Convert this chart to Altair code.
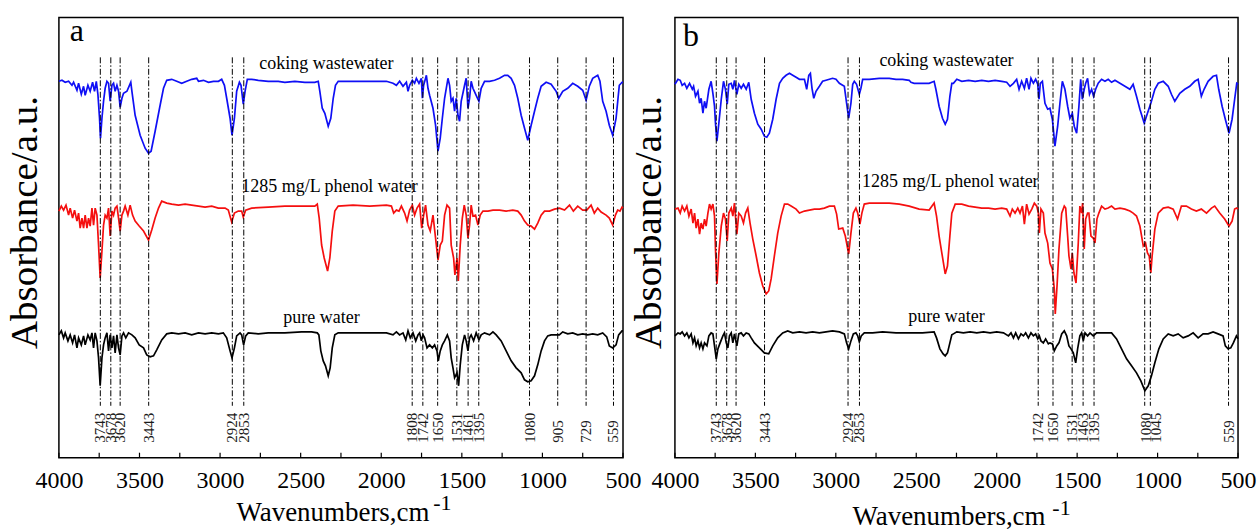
import altair as alt
import pandas as pd

FONT = "Liberation Serif"
SERIES = ["coking wastewater", "1285 mg/L phenol water", "pure water"]
COLORS = ["#0f0ff5", "#f50f0f", "#000000"]

X_LABELS = [4000, 3500, 3000, 2500, 2000, 1500, 1000, 500]
X_MINOR = [4000, 3750, 3500, 3250, 3000, 2750, 2500, 2250, 2000, 1750, 1500, 1250, 1000, 750, 500]

A_PEAKS = [3743, 3678, 3620, 3443, 2924, 2853, 1808, 1742, 1650, 1531, 1461, 1395, 1080, 905, 729, 559]
B_PEAKS = [3743, 3678, 3620, 3443, 2924, 2853, 1742, 1650, 1531, 1463, 1395, 1080, 1045, 559]

# panel a (wavenumber, absorbance a.u.)
A_COKING = [(4000,377),(3981,378),(3961,376),(3940,377),(3919,373),(3909,376),(3888,368),(3878,375),(3861,364),(3847,372),(3837,363),(3820,373),(3806,367),(3791,376),(3779,367),(3768,377),(3758,364),(3748,340),(3742,320),(3733,340),(3723,357),(3713,370),(3702,377),(3692,375),(3682,357),(3671,373),(3661,375),(3651,367),(3640,373),(3630,367),(3620,351),(3609,360),(3599,365),(3578,367),(3554,376),(3547,367),(3527,343),(3496,323),(3465,310),(3444,305),(3428,307),(3403,327),(3372,353),(3351,370),(3331,378),(3300,379),(3269,377),(3238,375),(3207,377),(3176,379),(3145,380),(3134,377),(3103,378),(3072,376),(3041,377),(3010,377),(2990,379),(2973,373),(2959,360),(2938,340),(2926,323),(2911,340),(2897,367),(2880,376),(2870,373),(2856,354),(2845,367),(2831,379),(2804,379),(2763,378),(2701,377),(2639,377),(2598,376),(2536,377),(2474,376),(2412,376),(2391,377),(2381,367),(2366,350),(2350,345),(2329,332),(2313,340),(2298,360),(2284,373),(2267,377),
(2175,377),(2071,377),(1968,377),(1927,375),(1906,373),(1886,377),(1865,372),(1844,376),(1834,367),(1824,373),(1807,378),(1793,375),(1782,380),(1766,375),(1751,380),(1745,360),(1737,373),(1720,383),(1710,370),(1700,363),(1679,350),(1663,333),(1648,307),(1634,320),(1621,340),(1607,360),(1586,380),(1576,373),(1566,357),(1555,360),(1545,347),(1535,360),(1524,343),(1514,337),(1504,357),(1483,373),(1473,380),(1462,350),(1452,360),(1442,377),(1431,370),(1411,363),(1394,357),(1380,370),(1359,377),(1328,377),(1297,378),(1266,380),(1235,383),(1215,383),(1194,380),(1173,373),(1153,360),(1132,343),(1111,330),(1091,318),(1070,333),(1049,347),(1029,360),(1008,372),(977,376),(946,374),(915,367),(899,360),(874,367),(843,370),(812,375),(781,372),(750,368),(729,358),(709,372),(688,380),(657,383),(643,377),(626,357),(605,347),(585,333),(564,323),(543,340),(523,373),(506,376),(500,376)]

A_PHENOL = [(4000,247),(3985,252),(3971,248),(3956,253),(3940,243),(3930,250),(3915,240),(3903,248),(3888,237),(3878,245),(3868,230),(3857,240),(3847,230),(3837,243),(3826,230),(3816,240),(3806,232),(3795,250),(3785,233),(3775,250),(3764,243),(3754,213),(3744,180),(3733,207),(3723,233),(3713,243),(3702,240),(3692,250),(3682,222),(3671,247),(3661,243),(3651,250),(3640,252),(3630,240),(3620,227),(3609,243),(3599,247),(3589,252),(3572,243),(3558,253),(3543,243),(3527,237),(3502,232),(3475,227),(3444,218),(3424,228),(3403,240),(3382,250),(3362,257),(3331,255),(3300,254),(3258,253),(3217,254),(3176,253),(3134,252),(3093,251),(3052,252),(3011,250),(2969,250),(2949,248),(2928,236),(2911,245),(2887,247),(2866,247),(2856,241),(2841,248),(2804,250),(2701,251),(2598,252),(2494,252),(2412,252),(2397,254),(2385,240),(2370,213),(2354,200),(2333,187),(2319,200),(2304,227),(2288,247),(2267,252),
(2175,253),(2071,252),(1968,253),(1937,252),(1923,245),(1906,248),(1890,247),(1875,252),(1855,245),(1840,237),(1824,248),(1807,253),(1793,243),(1778,250),(1762,254),(1749,230),(1737,243),(1725,253),(1710,233),(1696,227),(1679,243),(1663,220),(1648,198),(1634,213),(1621,217),(1607,243),(1592,253),(1576,250),(1566,213),(1551,200),(1543,183),(1530,200),(1522,177),(1510,213),(1497,240),(1485,253),(1473,243),(1462,220),(1452,233),(1442,253),(1431,242),(1415,243),(1400,233),(1386,243),(1369,247),(1338,247),(1307,248),(1266,248),(1225,247),(1184,248),(1153,247),(1132,243),(1111,237),(1091,233),(1070,232),(1049,229),(1029,235),(1008,243),(987,247),(956,247),(925,249),(894,250),(863,248),(832,253),(808,247),(781,252),(750,248),(725,248),(698,253),(678,245),(657,250),(636,246),(605,243),(585,240),(564,233),(547,243),(533,248),(519,247),(506,251),(500,250)]

A_PURE = [(4000,123),(3985,127),(3971,120),(3961,125),(3944,117),(3930,123),(3915,115),(3903,123),(3888,110),(3878,120),(3861,113),(3847,122),(3837,113),(3820,123),(3806,118),(3795,125),(3785,110),(3775,125),(3764,117),(3754,100),(3744,72),(3733,100),(3723,113),(3713,120),(3702,125),(3692,107),(3682,123),(3671,110),(3661,122),(3651,105),(3640,123),(3630,110),(3620,103),(3609,122),(3599,125),(3585,120),(3568,125),(3547,123),(3527,120),(3502,113),(3475,110),(3455,103),(3434,101),(3413,102),(3393,108),(3362,118),(3331,124),(3300,125),(3258,124),(3217,125),(3176,123),(3134,125),(3093,124),(3052,125),(3010,124),(2980,125),(2959,120),(2938,107),(2926,100),(2911,110),(2897,122),(2876,125),(2866,123),(2854,113),(2841,122),(2825,125),(2763,124),(2701,125),(2598,125),(2494,126),(2432,126),(2397,125),(2387,123),(2375,107),(2360,97),(2346,92),(2329,82),(2317,90),(2304,110),(2288,123),(2267,125),
(2175,125),(2071,125),(1968,125),(1927,123),(1906,126),(1886,123),(1865,125),(1848,118),(1834,127),(1820,120),(1803,125),(1786,117),(1772,123),(1762,125),(1751,117),(1741,123),(1731,120),(1716,110),(1700,113),(1683,110),(1669,113),(1654,107),(1646,97),(1634,107),(1621,113),(1607,117),(1590,123),(1576,117),(1566,100),(1555,90),(1545,80),(1530,85),(1520,72),(1510,93),(1497,113),(1483,123),(1473,117),(1462,107),(1452,120),(1442,123),(1427,117),(1411,125),(1394,118),(1380,123),(1359,125),(1328,123),(1307,126),(1287,123),(1256,117),(1225,107),(1194,97),(1163,90),(1132,85),(1111,78),(1091,76),(1070,77),(1049,82),(1029,93),(1008,107),(987,117),(967,122),(946,123),(915,123),(895,123),(874,126),(843,124),(812,125),(781,123),(750,124),(719,123),(688,124),(657,123),(626,125),(601,121),(585,112),(564,110),(543,113),(527,123),(506,127),(500,127)]

# panel b
B_COKING = [(4000,374),(3981,379),(3967,378),(3955,373),(3940,375),(3926,370),(3909,375),(3892,369),(3884,372),(3872,362),(3857,367),(3847,355),(3837,360),(3826,345),(3816,357),(3806,350),(3789,369),(3775,377),(3764,365),(3754,352),(3748,335),(3739,317),(3727,335),(3712,359),(3698,377),(3686,369),(3675,354),(3665,374),(3650,375),(3640,369),(3630,378),(3615,364),(3603,374),(3588,370),(3574,374),(3557,369),(3541,376),(3526,359),(3506,345),(3485,334),(3464,329),(3444,322),(3429,321),(3413,325),(3392,339),(3371,359),(3350,375),(3330,380),(3309,383),(3288,385),(3268,383),(3247,381),(3226,379),(3195,379),(3181,369),(3168,383),(3158,385),(3148,370),(3137,360),(3123,367),(3102,372),(3082,377),(3061,378),(3040,379),(3020,380),(2999,379),(2978,375),(2947,372),(2933,355),(2920,340),(2906,355),(2895,374),(2885,377),(2871,374),(2854,364),(2844,370),(2833,379),(2792,379),(2730,380),(2668,380),(2626,379),(2585,379),(2544,378),(2533,376),(2513,375),(2471,375),(2420,375),(2389,377),(2378,369),(2358,352),(2337,340),(2320,334),(2306,339),(2291,362),(2279,375),
(2269,375),(2248,379),(2217,377),(2175,378),(2134,377),(2093,378),(2051,377),(2010,378),(1969,377),(1938,376),(1917,372),(1896,375),(1876,379),(1861,369),(1845,377),(1828,370),(1814,380),(1799,369),(1787,380),(1772,375),(1758,379),(1745,374),(1737,359),(1729,375),(1716,377),(1700,355),(1683,349),(1669,350),(1654,339),(1638,312),(1621,332),(1607,355),(1592,377),(1576,369),(1559,352),(1545,340),(1530,345),(1518,332),(1503,325),(1489,352),(1478,379),(1468,359),(1456,369),(1447,375),(1435,380),(1423,364),(1410,369),(1398,362),(1385,369),(1369,375),(1348,379),(1327,377),(1307,379),(1286,376),(1265,378),(1234,375),(1203,372),(1172,369),(1152,374),(1131,362),(1110,349),(1083,335),(1063,345),(1042,355),(1017,369),(996,375),(965,377),(934,372),(914,364),(893,357),(862,365),(831,369),(800,372),(769,377),(748,379),(728,362),(711,369),(686,377),(655,382),(634,383),(620,369),(599,352),(579,339),(556,325),(537,339),(521,359),(508,375),(500,374)]

B_PHENOL = [(4000,249),(3981,250),(3967,245),(3955,252),(3940,247),(3926,252),(3913,242),(3899,249),(3888,235),(3878,245),(3868,230),(3857,239),(3847,224),(3837,235),(3826,229),(3816,239),(3806,232),(3795,245),(3785,254),(3775,249),(3764,254),(3754,242),(3748,209),(3739,174),(3727,205),(3712,232),(3698,245),(3686,239),(3675,217),(3665,245),(3650,250),(3640,242),(3630,255),(3615,224),(3603,245),(3588,242),(3574,235),(3561,245),(3547,250),(3533,235),(3516,219),(3495,202),(3475,185),(3454,172),(3433,164),(3417,167),(3402,179),(3382,202),(3361,225),(3340,242),(3319,254),(3299,254),(3278,252),(3247,249),(3226,245),(3195,247),(3164,248),(3133,249),(3102,249),(3071,250),(3040,252),(3009,252),(2995,244),(2982,229),(2957,230),(2941,222),(2920,204),(2906,225),(2891,245),(2875,250),(2864,245),(2850,234),(2838,245),(2823,254),(2792,255),(2730,255),(2668,255),(2606,254),(2544,252),(2482,249),(2420,248),(2389,255),(2374,242),(2358,222),(2341,205),(2320,184),(2306,192),(2291,222),(2279,245),
(2258,254),(2217,254),(2175,252),(2134,251),(2093,250),(2051,250),(2010,249),(1969,250),(1938,249),(1917,242),(1903,249),(1886,245),(1869,250),(1855,245),(1840,252),(1828,234),(1814,254),(1799,244),(1782,249),(1766,255),(1751,252),(1741,245),(1735,225),(1725,249),(1710,245),(1700,225),(1683,215),(1669,195),(1654,189),(1642,169),(1636,144),(1625,172),(1613,209),(1596,245),(1580,252),(1571,250),(1559,222),(1551,202),(1538,189),(1530,205),(1520,185),(1507,175),(1493,215),(1483,252),(1472,245),(1466,255),(1456,209),(1447,239),(1435,245),(1427,245),(1414,222),(1400,220),(1389,215),(1377,239),(1365,245),(1348,252),(1327,249),(1307,250),(1286,252),(1265,249),(1234,250),(1203,249),(1172,247),(1152,245),(1131,242),(1110,232),(1089,212),(1075,215),(1063,205),(1052,202),(1042,185),(1034,202),(1017,229),(996,245),(965,250),(934,251),(903,249),(876,239),(852,252),(821,252),(790,249),(759,247),(728,249),(696,245),(665,250),(645,252),(614,245),(583,239),(556,232),(537,237),(521,249),(508,250),(500,249)]

B_PURE = [(4000,122),(3981,125),(3967,124),(3955,126),(3940,122),(3926,125),(3913,120),(3899,124),(3888,115),(3878,120),(3868,112),(3857,117),(3847,110),(3837,115),(3826,109),(3816,115),(3801,112),(3789,122),(3775,125),(3764,124),(3754,112),(3743,99),(3733,109),(3719,115),(3702,122),(3692,125),(3681,115),(3671,110),(3661,122),(3650,125),(3640,115),(3630,124),(3615,112),(3603,124),(3588,125),(3574,122),(3557,125),(3541,124),(3526,120),(3506,115),(3475,110),(3444,105),(3417,104),(3392,112),(3361,120),(3330,125),(3299,127),(3268,125),(3226,126),(3185,125),(3144,126),(3102,125),(3061,126),(3020,127),(2978,126),(2947,124),(2933,115),(2920,109),(2906,117),(2891,124),(2875,125),(2864,122),(2854,116),(2842,122),(2823,125),(2771,125),(2709,126),(2626,125),(2544,125),(2461,125),(2389,126),(2374,120),(2353,109),(2333,104),(2320,102),(2306,105),(2291,115),(2279,123),
(2269,124),(2248,126),(2207,125),(2165,126),(2124,125),(2082,126),(2041,125),(2000,126),(1958,125),(1927,122),(1911,125),(1896,120),(1882,125),(1865,119),(1849,124),(1834,122),(1820,125),(1803,120),(1787,125),(1772,122),(1758,124),(1745,119),(1735,122),(1725,117),(1710,115),(1696,119),(1679,114),(1669,115),(1654,114),(1642,107),(1627,112),(1613,115),(1596,124),(1580,127),(1565,122),(1551,112),(1538,109),(1524,105),(1509,95),(1497,109),(1483,122),(1472,125),(1462,117),(1451,125),(1435,122),(1420,125),(1400,122),(1379,125),(1348,125),(1317,125),(1286,125),(1255,119),(1224,109),(1193,99),(1162,92),(1131,85),(1104,77),(1079,67),(1058,72),(1038,82),(1017,95),(992,109),(965,119),(934,124),(903,122),(872,124),(841,120),(810,122),(779,125),(748,120),(717,124),(686,124),(655,126),(624,124),(593,122),(579,112),(562,109),(545,110),(529,115),(510,122),(500,119)]

# annotation placement (not data)
A_NAME_POS = {"coking wastewater": (2340, 389), "1285 mg/L phenol water": (2321, 266), "pure water": (2371, 135)}
B_NAME_POS = {"coking wastewater": (2312, 392), "1285 mg/L phenol water": (2288, 271), "pure water": (2312, 136)}
B_LABEL_SHIFT = {1045: -35, 1080: -8}

HEIGHT = 441


def make_panel(spectra, peaks, label_shift, letter, letter_pos, name_pos,
               ytitle_x, xtitle_y, sup_x, sup_y, width):
    rows = []
    for name, pts in zip(SERIES, spectra):
        for wn, a in pts:
            rows.append({"series": name, "wn": wn, "a": a})
    spec_df = pd.DataFrame(rows)

    xs = alt.Scale(domain=[500, 4000], reverse=True, nice=False, zero=False)
    ys = alt.Scale(domain=[0, HEIGHT], nice=False, zero=False)
    xaxis = alt.Axis(values=X_LABELS, format="d", title="Wavenumbers,cm",
                     labelFont=FONT, labelFontSize=24, labelColor="black",
                     labelPadding=11, labelFlush=False, labelOverlap=False,
                     ticks=False, domain=False, grid=False,
                     titleFont=FONT, titleFontSize=27, titleFontWeight="normal",
                     titleColor="black", titleX=274, titleY=xtitle_y,
                     titleBaseline="alphabetic", titleAlign="center")
    yaxis = alt.Axis(labels=False, ticks=False, domain=False, grid=False,
                     title="Absorbance/a.u.", titleFont=FONT, titleFontSize=39,
                     titleFontWeight="normal", titleColor="black", titleAngle=270,
                     titleX=ytitle_x, titleY=205, titleBaseline="alphabetic",
                     titleAlign="center")
    X = alt.X("wn:Q", scale=xs, axis=xaxis)
    Y = alt.Y("a:Q", scale=ys, axis=yaxis)

    lines = alt.Chart(spec_df).mark_line(strokeWidth=1.7).encode(
        x=X, y=Y,
        color=alt.Color("series:N", scale=alt.Scale(domain=SERIES, range=COLORS), legend=None),
    )

    peak_df = pd.DataFrame({"wn": peaks, "a": [401] * len(peaks), "a2": [52] * len(peaks)})
    rules = alt.Chart(peak_df).mark_rule(color="black", strokeWidth=1, strokeDash=[6, 2, 1.5, 2]).encode(
        x=X, y=Y, y2=alt.Y2("a2:Q"))

    lab_df = pd.DataFrame({"wn": [p + label_shift.get(p, 0) for p in peaks],
                           "a": [15] * len(peaks), "t": [str(p) for p in peaks]})
    labels = alt.Chart(lab_df).mark_text(angle=270, align="left", baseline="middle",
                                         font=FONT, fontSize=15, color="#1a1a1a").encode(
        x=X, y=Y, text="t:N")

    tick_df = pd.DataFrame({"wn": X_MINOR})
    ticks = alt.Chart(tick_df).mark_rule(color="black", strokeWidth=1.2).encode(
        x=X, y=alt.value(HEIGHT), y2=alt.value(HEIGHT - 5))

    nm_df = pd.DataFrame({"t": list(name_pos.keys()),
                          "wn": [v[0] for v in name_pos.values()],
                          "a": [v[1] for v in name_pos.values()]})
    names = alt.Chart(nm_df).mark_text(align="center", baseline="alphabetic",
                                       font=FONT, fontSize=18, color="black").encode(
        x=X, y=Y, text="t:N")

    let_df = pd.DataFrame({"t": [letter], "wn": [letter_pos[0]], "a": [letter_pos[1]]})
    let = alt.Chart(let_df).mark_text(align="left", baseline="alphabetic",
                                      font=FONT, fontSize=32, color="black").encode(
        x=X, y=Y, text="t:N")

    sup = alt.Chart(pd.DataFrame({"t": ["-1"]})).mark_text(
        align="left", baseline="alphabetic", font=FONT, fontSize=22, color="black").encode(
        text="t:N", x=alt.value(sup_x), y=alt.value(sup_y))

    return alt.layer(lines, rules, labels, ticks, names, let, sup).properties(
        width=width, height=HEIGHT)


pa = make_panel([A_COKING, A_PHENOL, A_PURE], A_PEAKS, {}, "a", (3932, 417), A_NAME_POS,
                ytitle_x=-22, xtitle_y=63, sup_x=375, sup_y=493, width=565)
pb = make_panel([B_COKING, B_PHENOL, B_PURE], B_PEAKS, B_LABEL_SHIFT, "b", (3950, 412), B_NAME_POS,
                ytitle_x=-14, xtitle_y=67, sup_x=378, sup_y=498, width=564)

chart = alt.hconcat(pa, pb, spacing=52, bounds="flush").properties(
    padding={"left": 5, "top": 14, "right": 0, "bottom": 0},
    background="white",
).configure(font=FONT).configure_axis(
    labelFont=FONT, titleFont=FONT
).configure_text(font=FONT).configure_view(stroke="black", strokeWidth=1.5)

chart.save("out.html", embed_options={"renderer": "svg", "actions": False})
